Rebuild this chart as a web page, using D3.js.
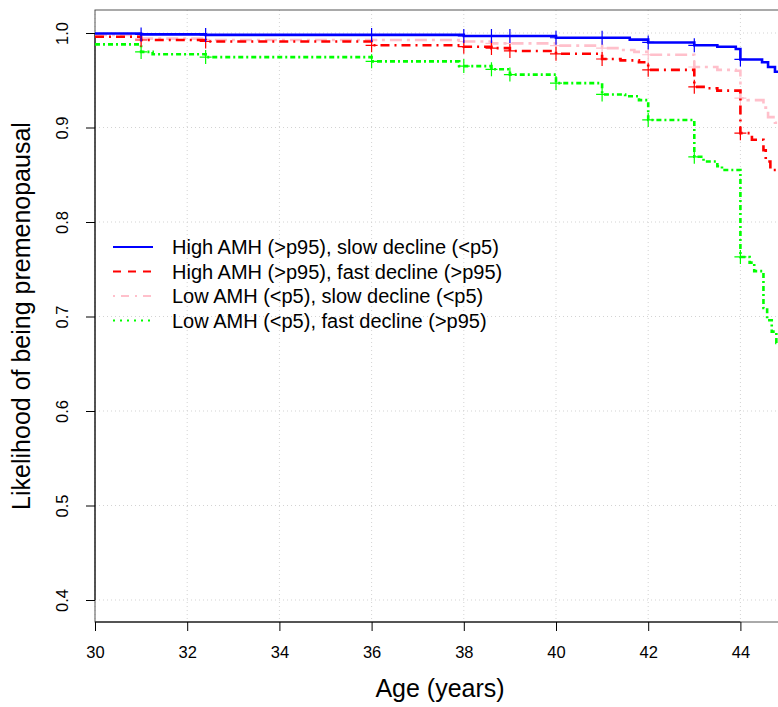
<!DOCTYPE html>
<html>
<head>
<meta charset="utf-8">
<script src="https://cdn.jsdelivr.net/npm/d3@7"></script>
<style>
	body { margin: 0; background: #fff; }
	svg { font-family: "Liberation Sans", Arial, Helvetica, sans-serif; }
	.grid line { stroke: #d3d3d3; stroke-width: 1; stroke-dasharray: 1,3; }
</style>
</head>
<body>
<svg width="778" height="707"></svg>
<script>
// ages of the tick marks and probability ticks
const ageTicks = [30, 32, 34, 36, 38, 40, 42, 44];
const probTicks = [0.4, 0.5, 0.6, 0.7, 0.8, 0.9, 1.0];

// censoring (visit) ages, same for every group
const censorAges = [31, 32.4, 36, 38, 38.6, 39, 40, 41, 42, 43, 44];

// Kaplan-Meier steps
const blueAge  = [30, 31, 32.4, 38, 40, 41.6, 42, 43, 43.5, 43.9, 44, 44.47, 44.6, 44.75, 45];
const blueSurv = [0.9995, 0.9985, 0.998, 0.9968, 0.995, 0.993, 0.990, 0.987, 0.9855, 0.983, 0.972, 0.969, 0.964, 0.959, 0.957];

const redAge  = [30, 31, 32.4, 36, 38, 38.6, 39, 40, 41, 41.4, 41.8, 42, 43, 43.25, 43.5, 44, 44.25, 44.5, 44.55, 44.65, 45];
const redSurv = [0.996, 0.9926, 0.991, 0.987, 0.9855, 0.984, 0.981, 0.978, 0.9725, 0.971, 0.969, 0.961, 0.943, 0.9415, 0.939, 0.894, 0.887, 0.876, 0.864, 0.855, 0.853];

const pinkAge  = [30, 31, 32.4, 38, 38.6, 40, 41, 41.4, 41.7, 42, 43, 43.5, 43.9, 44, 44.16, 44.5, 44.6, 44.75, 45];
const pinkSurv = [0.998, 0.994, 0.9926, 0.991, 0.989, 0.9866, 0.984, 0.982, 0.980, 0.977, 0.964, 0.961, 0.960, 0.931, 0.929, 0.921, 0.911, 0.905, 0.900];

const greenAge  = [30, 31, 31.25, 32.4, 36, 37.9, 38.6, 39, 40, 41, 41.5, 41.8, 42, 43, 43.2, 43.5, 43.6, 44, 44.2, 44.3, 44.5, 44.58, 44.68, 44.78];
const greenSurv = [0.988, 0.980, 0.9775, 0.9745, 0.970, 0.965, 0.9616, 0.956, 0.947, 0.935, 0.933, 0.929, 0.908, 0.869, 0.864, 0.859, 0.855, 0.763, 0.757, 0.748, 0.709, 0.696, 0.684, 0.672];

const groupNames = [
	"High AMH (>p95), slow decline (<p5)",
	"High AMH (>p95), fast decline (>p95)",
	"Low AMH (<p5), slow decline (<p5)",
	"Low AMH (<p5), fast decline (>p95)"
];
const groupColors = ["#0000ff", "#ff0000", "#ffc0cb", "#00ff00"];
const groupDash = [null, "9,5,2,5", "12,5,3,5", "5,3,2,3"];
const legendDash = [null, "8,7", "2,6,8,6", "2,5"];

const svg = d3.select("svg");

const plotLeft = 95, plotTop = 10, plotBottom = 622, plotRight = 900;

const x = d3.scaleLinear()
	.domain([30, 46])
	.range([plotLeft, plotLeft + 16 * 46.1]);

const y = d3.scaleLinear()
	.domain([0.4, 1.0])
	.range([600, 33]);

svg.append("defs").append("clipPath")
	.attr("id", "plotclip")
	.append("rect")
	.attr("x", plotLeft).attr("y", plotTop)
	.attr("width", plotRight - plotLeft).attr("height", plotBottom - plotTop);

// grid
const grid = svg.append("g").attr("class", "grid");
grid.selectAll(".vx")
	.data(ageTicks)
	.enter().append("line")
	.attr("x1", d => x(d)).attr("x2", d => x(d))
	.attr("y1", plotTop).attr("y2", plotBottom);
grid.selectAll(".hy")
	.data(probTicks)
	.enter().append("line")
	.attr("x1", plotLeft).attr("x2", plotRight)
	.attr("y1", d => y(d)).attr("y2", d => y(d));

// box
svg.append("rect")
	.attr("x", plotLeft).attr("y", plotTop)
	.attr("width", plotRight - plotLeft).attr("height", plotBottom - plotTop)
	.attr("fill", "none")
	.attr("stroke", "#555")
	.attr("stroke-width", 1);

// axes
const xAxis = d3.axisBottom(x)
	.tickValues(ageTicks)
	.tickSize(9)
	.tickPadding(15)
	.tickFormat(d3.format("d"));

const gx = svg.append("g")
	.attr("transform", "translate(0," + plotBottom + ")")
	.call(xAxis);
gx.select(".domain").remove();
gx.append("line")
	.attr("x1", x(30)).attr("x2", x(44))
	.attr("stroke", "#000");
gx.selectAll("text")
	.attr("font-size", 16.5)
	.attr("fill", "#000")
	.attr("font-family", "Liberation Sans, Arial, sans-serif");

const yAxis = d3.axisLeft(y)
	.tickValues(probTicks)
	.tickSize(9)
	.tickFormat(d3.format(".1f"));

const gy = svg.append("g")
	.attr("transform", "translate(" + plotLeft + ",0)")
	.call(yAxis);
gy.select(".domain").remove();
gy.append("line")
	.attr("y1", y(0.4)).attr("y2", y(1.0))
	.attr("stroke", "#000");
gy.selectAll(".tick text")
	.attr("font-size", 16.5)
	.attr("fill", "#000")
	.attr("font-family", "Liberation Sans, Arial, sans-serif")
	.attr("x", null).attr("dy", null)
	.attr("text-anchor", "middle")
	.attr("transform", "translate(-27,0) rotate(-90)");

// titles
svg.append("text")
	.attr("x", 440).attr("y", 697)
	.attr("text-anchor", "middle")
	.attr("font-size", 25)
	.text("Age (years)");

svg.append("text")
	.attr("transform", "translate(30,316) rotate(-90)")
	.attr("text-anchor", "middle")
	.attr("font-size", 25)
	.text("Likelihood of being premenopausal");

// curves
const groups = [
	{ age: blueAge, surv: blueSurv },
	{ age: redAge, surv: redSurv },
	{ age: pinkAge, surv: pinkSurv },
	{ age: greenAge, surv: greenSurv }
];

const stepLine = d3.line()
	.x(d => x(d[0]))
	.y(d => y(d[1]))
	.curve(d3.curveStepAfter);

function survAt(g, t) {
	const i = d3.bisectRight(g.age, t) - 1;
	return g.surv[Math.max(0, i)];
}

const plot = svg.append("g").attr("clip-path", "url(#plotclip)");

// draw in order so blue sits on top like the original
[3, 2, 1, 0].forEach(function(k) {
	const g = groups[k];
	const pts = g.age.map((a, i) => [a, g.surv[i]]);
	pts.push([46, g.surv[g.surv.length - 1]]);

	plot.append("path")
		.datum(pts)
		.attr("d", stepLine)
		.attr("fill", "none")
		.attr("stroke", groupColors[k])
		.attr("stroke-width", 2.6)
		.attr("stroke-dasharray", groupDash[k]);

	const marks = plot.append("g");
	marks.selectAll("path")
		.data(censorAges)
		.enter().append("path")
		.attr("d", function(t) {
			const cx = x(t), cy = y(survAt(g, t));
			return "M" + (cx - 6) + "," + cy + "H" + (cx + 6) + "M" + cx + "," + (cy - 7) + "V" + (cy + 7);
		})
		.attr("stroke", groupColors[k])
		.attr("stroke-width", 1.2)
		.attr("fill", "none");
});

// legend
const legend = svg.append("g").attr("class", "legend");
const rows = legend.selectAll("g")
	.data(groupNames)
	.enter().append("g")
	.attr("transform", (d, i) => "translate(113," + (247 + i * 24.5) + ")");

rows.append("line")
	.attr("x1", 0).attr("x2", 40)
	.attr("stroke", (d, i) => groupColors[i])
	.attr("stroke-width", 2.2)
	.attr("stroke-dasharray", (d, i) => legendDash[i]);

rows.append("text")
	.attr("x", 59)
	.attr("dy", "0.35em")
	.attr("font-size", 20)
	.text(d => d);
</script>
</body>
</html>
